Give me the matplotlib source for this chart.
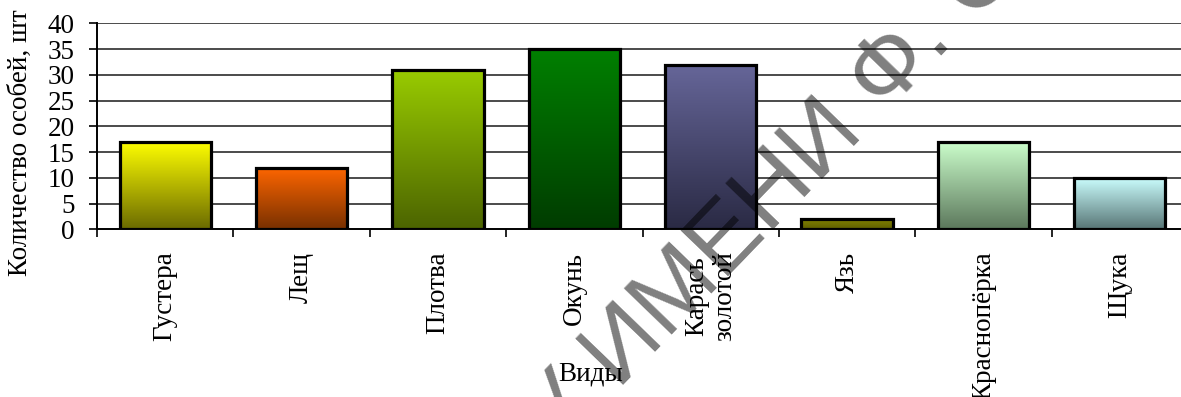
import numpy as np
import matplotlib
matplotlib.use("Agg")
import matplotlib.pyplot as plt
from matplotlib.colors import LinearSegmentedColormap

# Fish species and counts
species = ["Густера", "Лещ", "Плотва", "Окунь", "Карась\nзолотой", "Язь", "Краснопёрка", "Щука"]
counts = [17, 12, 31, 35, 32, 2, 17, 10]

# Gradient colours for each bar: (top, bottom)
top_colors = ["#FFFF00", "#FF6600", "#99CC00", "#008000", "#666699", "#858500", "#CCFFCC", "#CCFFFF"]
bottom_colors = ["#6B6B00", "#783000", "#4C6400", "#003C00", "#2A2A44", "#606000", "#5C785C", "#587676"]

y_ticks = [0, 5, 10, 15, 20, 25, 30, 35, 40]

W, H = 1181, 397
plt.rcParams["font.family"] = ["Liberation Serif", "DejaVu Serif"]
fig = plt.figure(figsize=(W / 100, H / 100), dpi=100)

FS = 19.5

ax_left, ax_right = 97, 1188
ax_top, ax_bottom = 23.3, 229.3
ax = fig.add_axes([ax_left / W, 1 - ax_bottom / H,
                   (ax_right - ax_left) / W, (ax_bottom - ax_top) / H])

x = np.arange(len(species))

# Horizontal gridlines
ax.set_yticks(y_ticks)
for v in y_ticks[1:]:
    ax.axhline(v, color="#1a1a1a", lw=1.1, zorder=1)

bars = ax.bar(x, counts, width=0.67, facecolor="none", edgecolor="black",
              linewidth=2.3, zorder=4)

grad = np.linspace(1, 0, 256).reshape(-1, 1)
for bar, c_top, c_bot in zip(bars, top_colors, bottom_colors):
    cmap = LinearSegmentedColormap.from_list("g", [c_bot, c_top])
    x0, w, h = bar.get_x(), bar.get_width(), bar.get_height()
    ax.imshow(grad, cmap=cmap, aspect="auto", extent=(x0, x0 + w, 0, h),
              origin="upper", zorder=3, interpolation="bilinear")
ax.set_xlim(-0.5, len(species) - 0.5)
ax.set_ylim(0, 40)

for s in ["top", "right"]:
    ax.spines[s].set_visible(False)
ax.spines["left"].set_linewidth(1.4)
ax.spines["bottom"].set_linewidth(1.4)
ax.spines["left"].set_zorder(5)
ax.spines["bottom"].set_zorder(5)

ax.tick_params(axis="y", direction="out", length=6, width=1.2, pad=10,
               labelsize=FS)
ax.set_yticklabels([str(v) for v in y_ticks])

ax.set_xticks(x)
ax.set_xticklabels(species, rotation=90, fontsize=FS, va="top", ha="center",
                   multialignment="center")
ax.tick_params(axis="x", which="major", length=0, pad=16)
ax.set_xticks(np.arange(-0.5, len(species), 1.0), minor=True)
ax.tick_params(axis="x", which="minor", direction="out", length=6, width=1.2)

fig.text(20 / W, 1 - 143 / H, "Количество особей, шт", rotation=90,
         ha="center", va="center", fontsize=FS)
fig.text(591 / W, 1 - 374 / H, "Виды", ha="center", va="center", fontsize=FS)

# Library watermark
ang = 46
wx, wy = 618, 390
wm = dict(rotation=ang, rotation_mode="anchor", va="baseline", fontsize=70,
          family="Liberation Sans", color="black", alpha=0.5, zorder=10)
fig.text(wx / W, 1 - wy / H, "ИМЕНИ Ф. СКОРИНЫ", ha="left", **wm)
fig.text(wx / W, 1 - wy / H, "ГГУ ", ha="right", **wm)

fig.savefig("out.png", dpi=100)
